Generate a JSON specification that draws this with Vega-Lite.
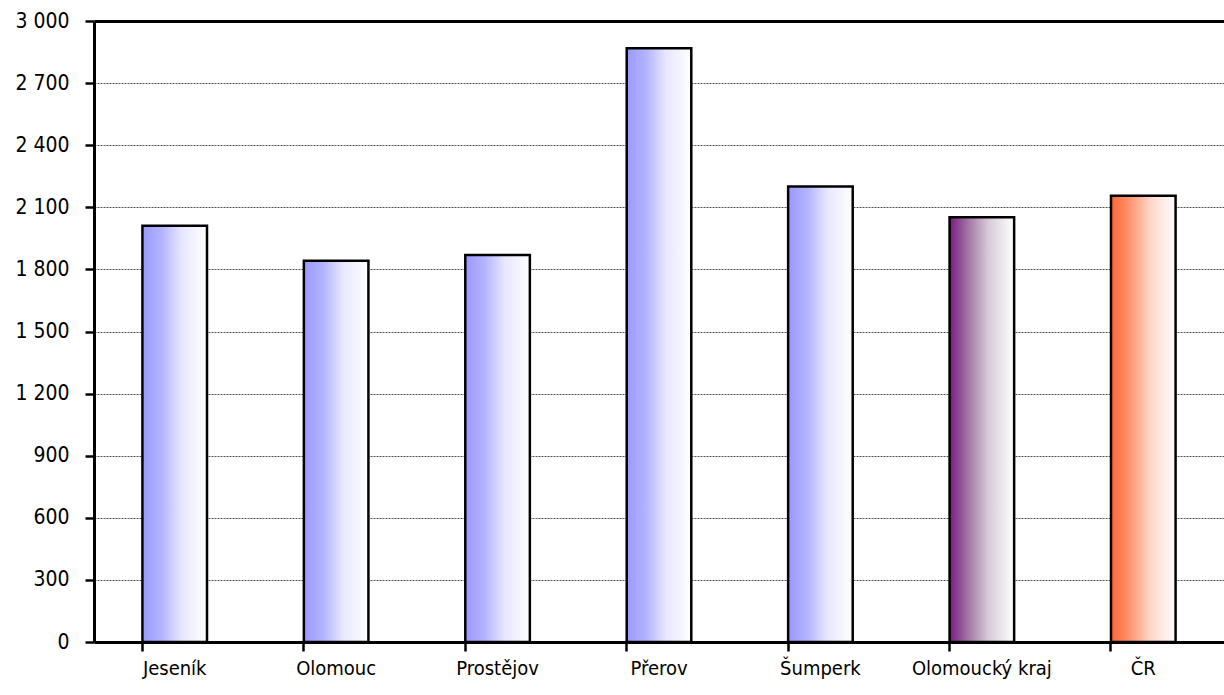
{
  "$schema": "https://vega.github.io/schema/vega-lite/v6.json",
  "width": 1130,
  "height": 621,
  "autosize": "none",
  "padding": {"left": 94, "top": 21, "right": 0, "bottom": 53},
  "background": "white",
  "data": {
    "values": [
      {"region": "Jeseník", "value": 2011, "grp": "okres"},
      {"region": "Olomouc", "value": 1842, "grp": "okres"},
      {"region": "Prostějov", "value": 1870, "grp": "okres"},
      {"region": "Přerov", "value": 2868, "grp": "okres"},
      {"region": "Šumperk", "value": 2200, "grp": "okres"},
      {"region": "Olomoucký kraj", "value": 2052, "grp": "kraj"},
      {"region": "ČR", "value": 2156, "grp": "cr"}
    ]
  },
  "encoding": {
    "x": {
      "field": "region",
      "type": "nominal",
      "sort": null,
      "scale": {"paddingInner": 0.6, "paddingOuter": 0.3},
      "axis": {
        "title": null,
        "labelAngle": 0,
        "bandPosition": 0,
        "domainColor": "black",
        "domainWidth": 3,
        "tickColor": "black",
        "tickWidth": 2.5,
        "tickSize": 9,
        "labelPadding": 7,
        "labelFontSize": 20,
        "labelColor": "black",
        "labelFont": "'DejaVu Sans Condensed', 'Liberation Sans', sans-serif"
      }
    },
    "y": {
      "field": "value",
      "type": "quantitative",
      "scale": {"domain": [0, 3000]},
      "axis": {
        "title": null,
        "values": [0, 300, 600, 900, 1200, 1500, 1800, 2100, 2400, 2700, 3000],
        "labelExpr": "replace(format(datum.value, ','), ',', ' ')",
        "domainColor": "black",
        "domainWidth": 3,
        "tickColor": "black",
        "tickWidth": 2.5,
        "tickSize": 9,
        "labelPadding": 16,
        "labelFontSize": 21,
        "labelColor": "black",
        "labelFont": "'DejaVu Sans Condensed', 'Liberation Sans', sans-serif",
        "grid": true,
        "gridColor": {"condition": {"test": "datum.value === 3000", "value": "black"}, "value": "#555555"},
        "gridWidth": {"condition": {"test": "datum.value === 3000", "value": 3}, "value": 1},
        "gridDash": {"condition": {"test": "datum.value === 3000", "value": []}, "value": [2, 1]}
      }
    }
  },
  "layer": [
    {
      "transform": [{"filter": "datum.grp === 'okres'"}],
      "mark": {
        "type": "bar",
        "stroke": "black",
        "strokeWidth": 2.5,
        "color": {
          "gradient": "linear", "x1": 0, "x2": 1, "y1": 0, "y2": 0,
          "stops": [
            {"offset": 0, "color": "#9999ff"},
            {"offset": 0.3, "color": "#b3b3ff"},
            {"offset": 0.6, "color": "#e6e6ff"},
            {"offset": 1, "color": "#ffffff"}
          ]
        }
      }
    },
    {
      "transform": [{"filter": "datum.grp === 'kraj'"}],
      "mark": {
        "type": "bar",
        "stroke": "black",
        "strokeWidth": 2.5,
        "color": {
          "gradient": "linear", "x1": 0, "x2": 1, "y1": 0, "y2": 0,
          "stops": [
            {"offset": 0, "color": "#7a1a80"},
            {"offset": 0.3, "color": "#a37aa6"},
            {"offset": 0.6, "color": "#d9c9da"},
            {"offset": 1, "color": "#ffffff"}
          ]
        }
      }
    },
    {
      "transform": [{"filter": "datum.grp === 'cr'"}],
      "mark": {
        "type": "bar",
        "stroke": "black",
        "strokeWidth": 2.5,
        "color": {
          "gradient": "linear", "x1": 0, "x2": 1, "y1": 0, "y2": 0,
          "stops": [
            {"offset": 0, "color": "#ff6633"},
            {"offset": 0.3, "color": "#ff9673"},
            {"offset": 0.6, "color": "#ffd5c6"},
            {"offset": 1, "color": "#ffffff"}
          ]
        }
      }
    }
  ],
  "config": {
    "view": {"stroke": null}
  }
}
